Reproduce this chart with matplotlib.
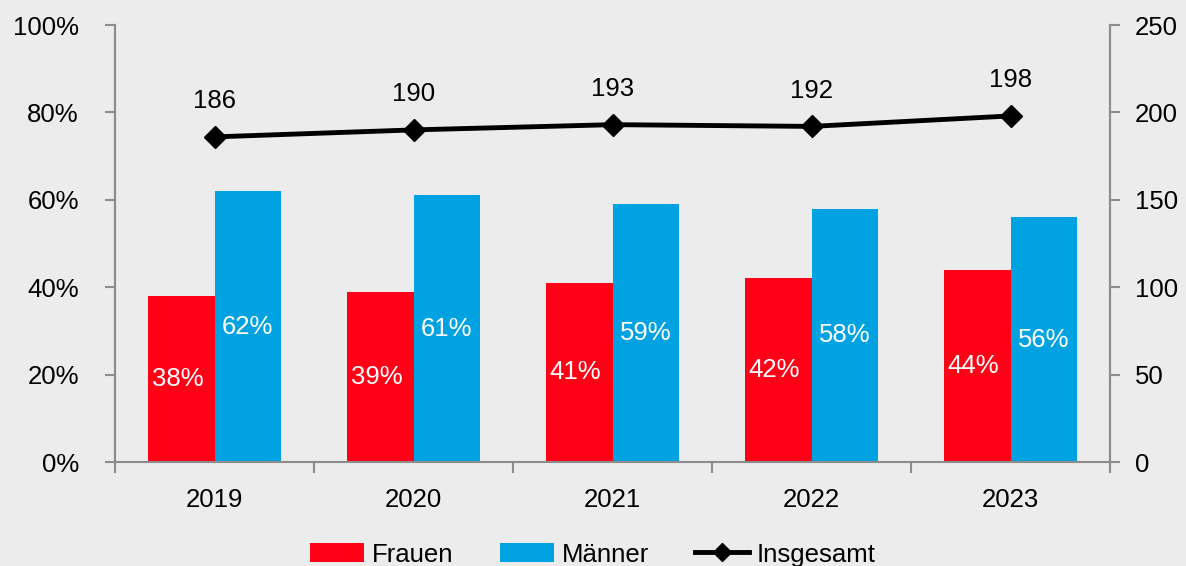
import matplotlib.pyplot as plt
import numpy as np
from matplotlib.ticker import FixedLocator, PercentFormatter

plt.rcParams['font.family'] = ['Liberation Sans', 'DejaVu Sans']

years = ['2019', '2020', '2021', '2022', '2023']
frauen = [38, 39, 41, 42, 44]
maenner = [62, 61, 59, 58, 56]
insgesamt = [186, 190, 193, 192, 198]

RED = '#FF0016'
BLUE = '#00A2E1'
GRAY = '#8C8C8C'
BG = '#ECECEC'
FS = 18.5

fig = plt.figure(figsize=(11.86, 5.66), dpi=100, facecolor=BG)
ax = fig.add_axes([0.097, 0.1837, 0.839, 0.7721])
ax.set_facecolor(BG)
ax2 = ax.twinx()

x = np.arange(len(years))
w = 0.333
b1 = ax.bar(x - w / 2, frauen, w, color=RED, label='Frauen', zorder=2)
b2 = ax.bar(x + w / 2, maenner, w, color=BLUE, label='Männer', zorder=2)

for rect, v in zip(b1, frauen):
    ax.text(rect.get_x() + rect.get_width() / 2 - 0.02, v / 2, f'{v}%', color='white',
            ha='center', va='center', fontsize=FS)
for rect, v in zip(b2, maenner):
    ax.text(rect.get_x() + rect.get_width() / 2, v / 2, f'{v}%', color='white',
            ha='center', va='center', fontsize=FS)

line, = ax2.plot(x, insgesamt, color='black', lw=3.5, marker='D', ms=11,
                 label='Insgesamt', zorder=3)
for xi, v in zip(x, insgesamt):
    ax2.annotate(str(v), (xi, v), xytext=(0, 17), textcoords='offset points',
                 ha='center', va='bottom', fontsize=FS)

ax.set_xlim(-0.5, len(years) - 0.5)
ax.set_ylim(0, 100)
ax2.set_ylim(0, 250)
ax.set_yticks(range(0, 101, 20))
ax.yaxis.set_major_formatter(PercentFormatter(decimals=0))
ax2.set_yticks(range(0, 251, 50))

ax.set_xticks(x)
ax.set_xticklabels(years)
ax.xaxis.set_minor_locator(FixedLocator(np.arange(-0.5, len(years), 1)))
ax.tick_params(axis='x', which='major', length=0, pad=19, labelsize=FS)
ax.tick_params(axis='x', which='minor', length=8, color=GRAY, width=1.5)
ax.tick_params(axis='y', length=7, color=GRAY, width=1.5, labelsize=FS, pad=19)
ax2.tick_params(axis='y', length=7, color=GRAY, width=1.5, labelsize=FS, pad=11)

for a in (ax, ax2):
    for s in a.spines.values():
        s.set_color(GRAY)
        s.set_linewidth(1.5)
    a.spines['top'].set_visible(False)
ax2.spines['bottom'].set_visible(False)

fig.legend(handles=[b1, b2, line], loc='center', bbox_to_anchor=(0.5, 0.02),
           ncol=3, frameon=False, fontsize=FS, handlelength=2.1, handleheight=0.75,
           columnspacing=1.8, handletextpad=0.3, markerscale=0.8)

fig.savefig('out.png', dpi=100, facecolor=BG)
